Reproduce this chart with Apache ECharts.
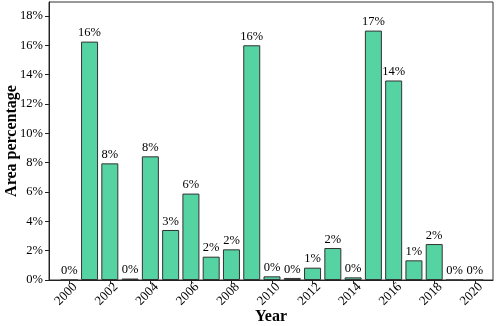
<!DOCTYPE html>
<html>
<head>
<meta charset="utf-8">
<script src="https://cdn.jsdelivr.net/npm/echarts@6/dist/echarts.min.js"></script>
<style>
  html, body { margin: 0; padding: 0; background: #fff; }
  #chart { width: 498px; height: 326px; }
</style>
</head>
<body>
<div id="chart"></div>
<script>
// years and area share (%)
var years = [2000, 2001, 2002, 2003, 2004, 2005, 2006, 2007, 2008, 2009, 2010,
             2011, 2012, 2013, 2014, 2015, 2016, 2017, 2018, 2019, 2020];
var areaPct = [0, 16.25, 7.95, 0.1, 8.43, 3.41, 5.89, 1.59, 2.09, 16.0, 0.25,
               0.14, 0.84, 2.18, 0.18, 17.0, 13.6, 1.34, 2.45, 0, 0];
var xTicks = [2000, 2002, 2004, 2006, 2008, 2010, 2012, 2014, 2016, 2018, 2020];
var yTicks = [0, 2, 4, 6, 8, 10, 12, 14, 16, 18];

var serif = '"Liberation Serif", "Times New Roman", serif';

var chart = echarts.init(document.getElementById('chart'));

var option = {
  animation: false,
  grid: {
    left: 49, right: 5, top: 2, bottom: 46,
    outerBoundsMode: 'none',
    show: true, borderColor: '#333', borderWidth: 1
  },
  xAxis: {
    type: 'value',
    min: 1999,
    max: 2020.9,
    name: 'Year',
    nameLocation: 'middle',
    nameGap: 29,
    nameMoveOverlap: false,
    nameTextStyle: { fontFamily: serif, fontSize: 16, fontWeight: 'bold', color: '#000' },
    axisLine: { show: true, lineStyle: { color: '#222', width: 1 } },
    axisTick: { show: true, length: 4, customValues: xTicks, lineStyle: { color: '#222' } },
    axisLabel: {
      customValues: xTicks,
      rotate: 45,
      align: 'right',
      verticalAlign: 'top',
      lineHeight: 17,
      margin: -1,
      fontFamily: serif,
      fontSize: 13,
      color: '#000',
      formatter: function (v) { return String(v); }
    },
    splitLine: { show: false }
  },
  yAxis: {
    type: 'value',
    min: 0,
    max: 18.95,
    name: 'Area percentage',
    nameLocation: 'middle',
    nameGap: 29,
    nameMoveOverlap: false,
    nameTextStyle: { fontFamily: serif, fontSize: 16, fontWeight: 'bold', color: '#000' },
    axisLine: { show: true, lineStyle: { color: '#222', width: 1 } },
    axisTick: { show: true, length: 4, customValues: yTicks, lineStyle: { color: '#222' } },
    axisLabel: {
      customValues: yTicks,
      margin: 6,
      fontFamily: serif,
      fontSize: 12.5,
      color: '#000',
      formatter: function (v) { return v + '%'; }
    },
    splitLine: { show: false }
  },
  series: [{
    type: 'bar',
    barWidth: 17,
    itemStyle: { color: '#56d3a3', borderColor: '#333', borderWidth: 1 },
    label: {
      show: true,
      position: 'top',
      distance: 2,
      fontFamily: serif,
      fontSize: 12.5,
      color: '#000',
      formatter: function (p) { return Math.round(p.value[1]) + '%'; }
    },
    data: years.map(function (y, i) { return [y, areaPct[i]]; })
  }]
};

chart.setOption(option);
</script>
</body>
</html>
